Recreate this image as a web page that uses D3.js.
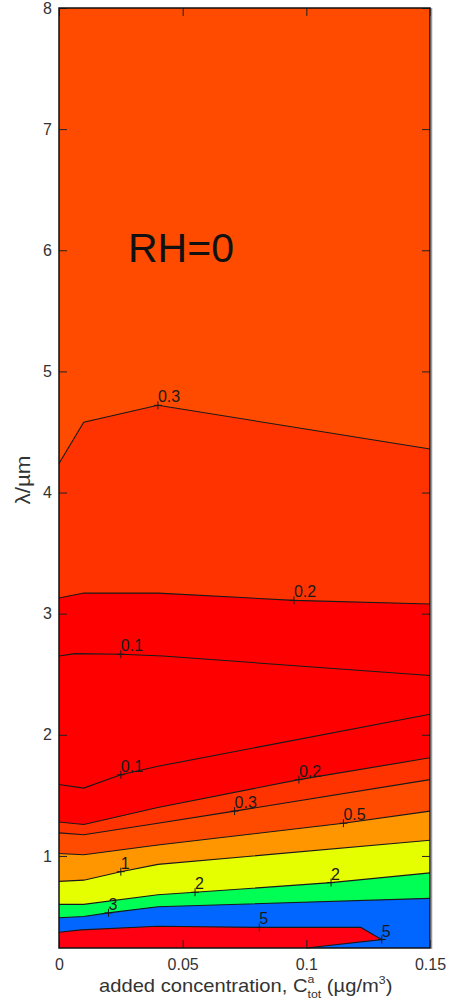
<!DOCTYPE html>
<html>
<head>
<meta charset="utf-8">
<script src="https://cdn.jsdelivr.net/npm/d3@7/dist/d3.min.js"></script>
<style>
  body { margin: 0; background: #fff; }
  text { font-family: "Liberation Sans", Arial, Helvetica, sans-serif; }
</style>
</head>
<body>
<div id="container"></div>
<script>
// axis ticks
var xTicks = [0, 0.05, 0.1, 0.15];
var yTicks = [1, 2, 3, 4, 5, 6, 7, 8];

// contour lines, top to bottom: level and [concentration, lambda] points
var contourLevels = [0.3, 0.2, 0.1, 0.1, 0.2, 0.3, 0.5, 1, 2, 3];
var contourPoints = [
    [[0, 4.24], [0.01, 4.58], [0.04, 4.72], [0.15, 4.36]],
    [[0, 3.13], [0.01, 3.17], [0.04, 3.17], [0.095, 3.11], [0.15, 3.08]],
    [[0, 2.65], [0.0065, 2.67], [0.025, 2.665], [0.042, 2.65], [0.15, 2.49]],
    [[0, 1.59], [0.01, 1.56], [0.025, 1.67], [0.04, 1.74], [0.15, 2.17]],
    [[0, 1.28], [0.01, 1.26], [0.04, 1.40], [0.097, 1.63], [0.15, 1.81]],
    [[0, 1.19], [0.01, 1.175], [0.04, 1.27], [0.071, 1.37], [0.15, 1.63]],
    [[0, 1.02], [0.01, 1.01], [0.04, 1.09], [0.115, 1.27], [0.15, 1.37]],
    [[0, 0.79], [0.01, 0.80], [0.025, 0.87], [0.04, 0.93], [0.15, 1.13]],
    [[0, 0.60], [0.01, 0.60], [0.04, 0.68], [0.055, 0.70], [0.11, 0.78], [0.15, 0.86]],
    [[0, 0.49], [0.01, 0.50], [0.02, 0.53], [0.04, 0.58], [0.15, 0.65]]
];
var contourLabelPoints = [
    [[0.04, 4.72]],
    [[0.095, 3.11]],
    [[0.025, 2.665]],
    [[0.025, 1.67]],
    [[0.097, 1.63]],
    [[0.071, 1.37]],
    [[0.115, 1.27]],
    [[0.025, 0.87]],
    [[0.055, 0.70], [0.11, 0.78]],
    [[0.02, 0.53]]
];

// closed region above 5 near the bottom
var peakLevel = 5;
var peakRegion = [[0, 0.24], [0, 0.37], [0.009, 0.39], [0.04, 0.42], [0.081, 0.41],
    [0.122, 0.41], [0.1305, 0.31], [0.10, 0.24]];
var peakLabelPoints = [[0.081, 0.41], [0.1305, 0.31]];

// fill colours: above first line, then below each line
var topColor = '#ff4b00';
var bandColors = ['#ff3300', '#ff0000', '#ff0000', '#ff0000', '#ff3300',
    '#ff4b00', '#ff9600', '#e6ff00', '#00ff55', '#0066ff'];
var peakColor = '#ff0012';

var svgWidth = 450, svgHeight = 1005;
var plotLeft = 59, plotRight = 430, plotTop = 8, plotBottom = 948;

var x = d3.scaleLinear().domain([0, 0.15]).range([plotLeft, plotRight]);
var y = d3.scaleLinear().domain([0.24, 8]).range([plotBottom, plotTop]);

var svg = d3.select('#container').append('svg')
    .attr('width', svgWidth)
    .attr('height', svgHeight);

var plot = svg.append('g');

plot.append('rect')
    .attr('x', plotLeft)
    .attr('y', plotTop)
    .attr('width', plotRight - plotLeft)
    .attr('height', plotBottom - plotTop)
    .attr('fill', topColor);

var area = d3.area()
    .x(function (d) { return x(d[0]); })
    .y0(plotBottom)
    .y1(function (d) { return y(d[1]); });

plot.selectAll('path.band')
    .data(contourPoints)
    .enter().append('path')
    .attr('class', 'band')
    .attr('d', area)
    .attr('fill', function (d, i) { return bandColors[i]; });

var line = d3.line()
    .x(function (d) { return x(d[0]); })
    .y(function (d) { return y(d[1]); });

plot.append('path')
    .attr('d', line(peakRegion) + 'Z')
    .attr('fill', peakColor);

plot.selectAll('path.contour')
    .data(contourPoints)
    .enter().append('path')
    .attr('class', 'contour')
    .attr('d', line)
    .attr('fill', 'none')
    .attr('stroke', '#1a1a1a')
    .attr('stroke-width', 1.1);

// edge of the peak region (not the part on the bottom frame)
plot.append('path')
    .attr('d', line(peakRegion.slice(1)))
    .attr('fill', 'none')
    .attr('stroke', '#1a1a1a')
    .attr('stroke-width', 1.1);

// contour labels
var labels = [];
contourLabelPoints.forEach(function (pts, i) {
    pts.forEach(function (p) { labels.push({ p: p, text: String(contourLevels[i]) }); });
});
peakLabelPoints.forEach(function (p) { labels.push({ p: p, text: String(peakLevel) }); });

var labelGroup = plot.append('g');
labelGroup.selectAll('path')
    .data(labels)
    .enter().append('path')
    .attr('d', function (d) {
        var cx = x(d.p[0]), cy = y(d.p[1]);
        return 'M' + (cx - 4) + ',' + cy + 'H' + (cx + 4) + 'M' + cx + ',' + (cy - 4) + 'V' + (cy + 4);
    })
    .attr('stroke', '#1a1a1a')
    .attr('stroke-width', 1);
labelGroup.selectAll('text')
    .data(labels)
    .enter().append('text')
    .attr('x', function (d) { return x(d.p[0]); })
    .attr('y', function (d) { return y(d.p[1]) - 3; })
    .attr('font-size', 16)
    .attr('fill', '#1a1a1a')
    .text(function (d) { return d.text; });

// annotation
plot.append('text')
    .attr('x', 128)
    .attr('y', 262)
    .attr('font-size', 41)
    .attr('fill', '#111')
    .text('RH=0');

// axes
var fmtX = function (d) { return d === 0 ? '0' : String(d); };

var axisL = svg.append('g')
    .attr('transform', 'translate(' + plotLeft + ',0)')
    .call(d3.axisLeft(y).tickValues(yTicks).tickSizeInner(-8).tickSizeOuter(0).tickPadding(7));
var axisR = svg.append('g')
    .attr('transform', 'translate(' + plotRight + ',0)')
    .call(d3.axisRight(y).tickValues(yTicks).tickSizeInner(-8).tickSizeOuter(0).tickFormat(''));
var axisB = svg.append('g')
    .attr('transform', 'translate(0,' + plotBottom + ')')
    .call(d3.axisBottom(x).tickValues(xTicks).tickSizeInner(-8).tickSizeOuter(0).tickPadding(11).tickFormat(fmtX));
var axisT = svg.append('g')
    .attr('transform', 'translate(0,' + plotTop + ')')
    .call(d3.axisTop(x).tickValues(xTicks).tickSizeInner(-8).tickSizeOuter(0).tickFormat(''));

[axisL, axisR, axisB, axisT].forEach(function (a) {
    a.select('.domain').remove();
    a.selectAll('line').attr('stroke', '#222');
    a.selectAll('text')
        .attr('font-size', 16)
        .attr('fill', '#333')
        .attr('font-family', '"Liberation Sans", Arial, sans-serif');
});

svg.append('rect')
    .attr('x', plotLeft)
    .attr('y', plotTop)
    .attr('width', plotRight - plotLeft)
    .attr('height', plotBottom - plotTop)
    .attr('fill', 'none')
    .attr('stroke', '#111')
    .attr('stroke-width', 1.5);

svg.append('line')
    .attr('x1', plotRight + 1.5)
    .attr('x2', plotRight + 1.5)
    .attr('y1', plotTop)
    .attr('y2', plotBottom + 1)
    .attr('stroke', '#999')
    .attr('stroke-width', 1.5);

// axis titles
var xTitle = svg.append('text')
    .attr('transform', 'translate(99,992) scale(1.12,1)')
    .attr('font-size', 18)
    .attr('fill', '#333');
xTitle.append('tspan').text('added concentration, C');
xTitle.append('tspan').attr('font-size', 11).attr('dy', -9).text('a');
xTitle.append('tspan').attr('font-size', 11).attr('dx', -6).attr('dy', 15).text('tot');
xTitle.append('tspan').attr('dy', -6).text(' (\u00b5g/m');
xTitle.append('tspan').attr('font-size', 11).attr('dy', -8).text('3');
xTitle.append('tspan').attr('dy', 8).text(')');

svg.append('text')
    .attr('transform', 'translate(30,480) rotate(-90) scale(1.12,1)')
    .attr('text-anchor', 'middle')
    .attr('font-size', 20)
    .attr('fill', '#333')
    .text('\u03bb/\u00b5m');
</script>
</body>
</html>
